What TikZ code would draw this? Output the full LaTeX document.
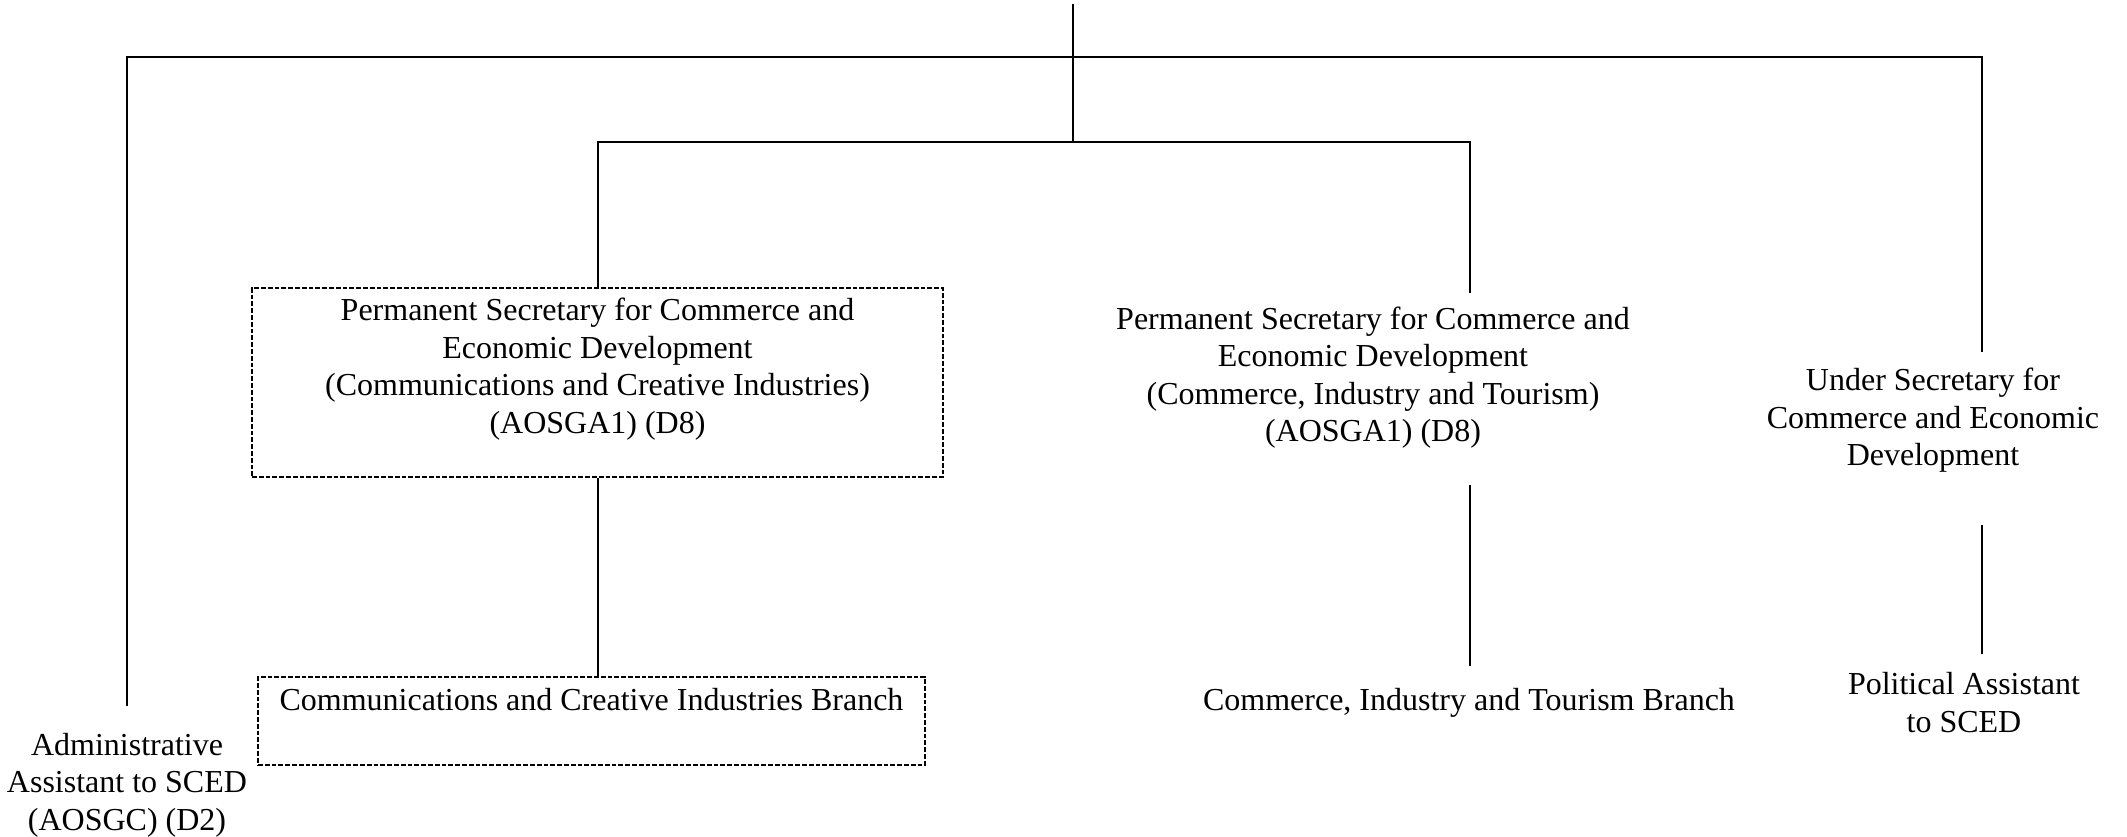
\documentclass[tikz,border=0pt]{standalone}
\usepackage{fontspec}
\setmainfont{Liberation Serif}
\usetikzlibrary{calc}
\tikzset{
  conn/.style={line width=1pt},
  dbox/.style={draw, dash pattern=on 2.4pt off 1pt, line width=0.8pt, inner sep=0pt,
    font=\fontsize{16pt}{18.75pt}\selectfont},
  txt/.style={inner sep=0pt, align=center, font=\fontsize{16pt}{18.75pt}\selectfont},
}
\begin{document}
\begin{tikzpicture}[x=0.5pt,y=-0.5pt]
\path[use as bounding box] (0,0) rectangle (2127,836);
% junctions
\coordinate (top) at (1073,4);
\coordinate (hubB) at (1073,142);
\coordinate (cornerR) at (1982,57);
\coordinate (b2x) at (1470,142);
% nodes
\node[dbox] (ps1) at (597.5,382.5) {\begin{minipage}[c][94.5pt][t]{345.5pt}\centering\vspace*{5.2pt}Permanent Secretary for Commerce and\\Economic Development\\(Communications and Creative Industries)\\(AOSGA1) (D8)\end{minipage}};
\node[dbox] (br1) at (591.5,721) {\begin{minipage}[c][44pt][t]{333.5pt}\centering\vspace*{5.7pt}Communications and Creative Industries Branch\end{minipage}};
\node[txt] (ps2) at (1373,377.5) {Permanent Secretary for Commerce and\\Economic Development\\(Commerce, Industry and Tourism)\\(AOSGA1) (D8)};
\node[txt] (br2) at (1469,702.5) {Commerce, Industry and Tourism Branch};
\node[txt] (us) at (1933,420.5) {Under Secretary for\\Commerce and Economic\\Development};
\node[txt] (pa) at (1964,702.5) {Political Assistant\\to SCED};
\node[txt] (aa) at (127,785) {Administrative\\Assistant to SCED\\(AOSGC) (D2)};
% connectors
\draw[conn] (top) -- (hubB);
\draw[conn] ($(aa.north)+(0,-26.3)$) |- (cornerR) -- ($(cornerR |- us.north)+(0,-16.3)$);
\draw[conn] ($(cornerR |- us.south)+(0,52)$) -- ($(cornerR |- pa.north)+(0,-18.3)$);
\draw[conn] (ps1.north) |- (hubB) -| ($(b2x |- ps2.north)+(0,-13.3)$);
\draw[conn] (ps1.south) -- (ps1.south |- br1.north);
\draw[conn] ($(b2x |- ps2.south)+(0,36.5)$) -- ($(b2x |- br2.north)+(0,-21.5)$);
\end{tikzpicture}
\end{document}
